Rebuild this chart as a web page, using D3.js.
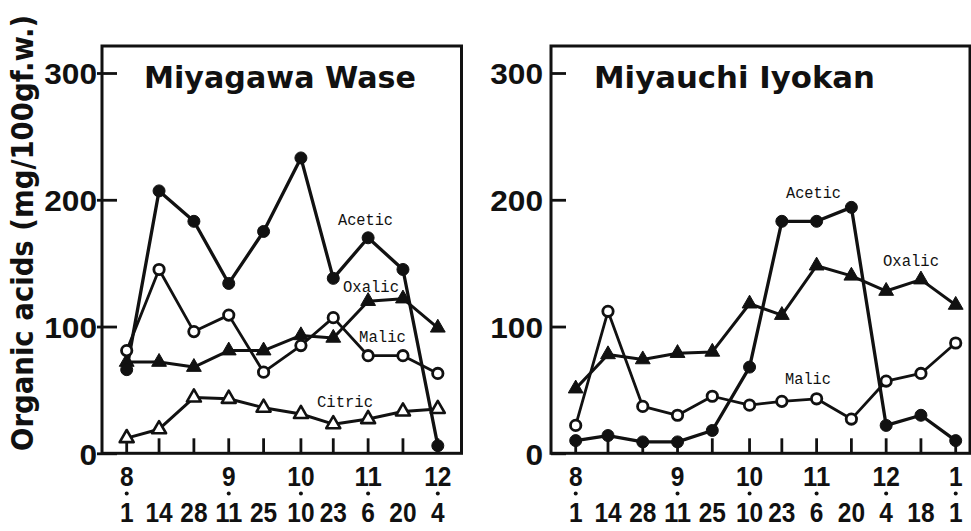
<!DOCTYPE html>
<html>
<head>
<meta charset="utf-8">
<script src="https://cdn.jsdelivr.net/npm/d3@7"></script>
<style>
  html, body { margin: 0; padding: 0; background: #fff; }
  svg { display: block; }
</style>
</head>
<body>
<svg id="chart" width="971" height="531"></svg>
<script>
// ---------------- DATA ----------------
const yTicks = [0, 100, 200, 300];
const yTitle = "Organic acids (mg/100gf.w.)";

const wDates = ["1980-08-01","1980-08-14","1980-08-28","1980-09-11","1980-09-25","1980-10-10","1980-10-23","1980-11-06","1980-11-20","1980-12-04"];
const wDayLabels = ["1","14","28","11","25","10","23","6","20","4"];
const wMonthDates = ["1980-08-01","1980-09-11","1980-10-10","1980-11-06","1980-12-04"];
const wMonthLabels = ["8","9","10","11","12"];
const wAcetic = [66, 207, 183, 134, 175, 233, 138, 170, 145, 6];
const wMalic  = [81, 145, 96, 109, 64, 85, 107, 77, 77, 63];
const wOxalic = [72, 72, 68, 81, 81, 93, 91, 120, 122, 99];
const wCitric = [12, 19, 44, 43, 36, 31, 23, 27, 33, 35];

const iDates = ["1980-08-01","1980-08-14","1980-08-28","1980-09-11","1980-09-25","1980-10-10","1980-10-23","1980-11-06","1980-11-20","1980-12-04","1980-12-18","1981-01-01"];
const iDayLabels = ["1","14","28","11","25","10","23","6","20","4","18","1"];
const iMonthDates = ["1980-08-01","1980-09-11","1980-10-10","1980-11-06","1980-12-04","1981-01-01"];
const iMonthLabels = ["8","9","10","11","12","1"];
const iAcetic = [10, 14, 9, 9, 18, 68, 183, 183, 194, 22, 30, 10];
const iOxalic = [51, 78, 74, 79, 80, 118, 109, 148, 140, 128, 137, 117];
const iMalic  = [22, 112, 37, 30, 45, 38, 41, 43, 27, 57, 63, 87];

// ---------------- DRAWING ----------------
const parse = d3.timeParse("%Y-%m-%d");
const svg = d3.select("#chart");
const INK = "#111";
const NUMFONT = "'Liberation Sans', Arial, sans-serif";

const y = d3.scaleLinear().domain([0, 300]).range([453.3, 73]);

function drawPanel(cfg) {
  const g = svg.append("g");
  const dates = cfg.dates.map(parse);
  const x = d3.scaleTime().domain([dates[0], dates[dates.length - 1]]).range(cfg.xRange);

  // frame
  g.append("rect")
    .attr("x", cfg.frame[0]).attr("y", cfg.frame[1])
    .attr("width", cfg.frame[2] - cfg.frame[0]).attr("height", cfg.frame[3] - cfg.frame[1])
    .attr("fill", "none").attr("stroke", INK).attr("stroke-width", 3);

  // y axis (ticks inside)
  const ya = g.append("g")
    .attr("transform", `translate(${cfg.frame[0]},0)`)
    .call(d3.axisLeft(y).tickValues(yTicks).tickSize(-cfg.yTickIn).tickPadding(cfg.yPad).tickFormat(d3.format("d")));
  ya.attr("font-size", null).attr("font-family", null);
  ya.select(".domain").remove();
  ya.selectAll(".tick line").attr("stroke", INK).attr("stroke-width", 2.8)
    .attr("x1", -cfg.yTickOut);
  ya.selectAll(".tick text")
    .style("font-family", NUMFONT).style("font-size", "30px").style("font-weight", "bold")
    .attr("fill", INK).attr("dy", "0.36em")
    .attr("textLength", d => String(d).length * 17.6).attr("lengthAdjust", "spacingAndGlyphs");

  // x ticks (inside, upward)
  g.append("g").selectAll("line").data(dates).join("line")
    .attr("x1", d => x(d)).attr("x2", d => x(d))
    .attr("y1", cfg.frame[3]).attr("y2", cfg.frame[3] - 15)
    .attr("stroke", INK).attr("stroke-width", 2.8);

  // month labels
  const mDates = cfg.monthDates.map(parse);
  g.append("g").selectAll("text").data(cfg.monthLabels).join("text")
    .attr("x", (d, i) => x(mDates[i])).attr("y", 486)
    .attr("text-anchor", "middle")
    .style("font-family", NUMFONT).style("font-size", "28px").style("font-weight", "bold")
    .attr("fill", INK)
    .attr("textLength", d => d.length * 13.6).attr("lengthAdjust", "spacingAndGlyphs")
    .text(d => d);
  // dots marking month start
  g.append("g").selectAll("circle").data(mDates).join("circle")
    .attr("cx", d => x(d)).attr("cy", 493.5).attr("r", 2).attr("fill", INK);
  // day labels
  g.append("g").selectAll("text").data(cfg.dayLabels).join("text")
    .attr("x", (d, i) => x(dates[i])).attr("y", 521.5)
    .attr("text-anchor", "middle")
    .style("font-family", NUMFONT).style("font-size", "28px").style("font-weight", "bold")
    .attr("fill", INK)
    .attr("textLength", d => d.length * 13.6).attr("lengthAdjust", "spacingAndGlyphs")
    .text(d => d);

  // title
  g.append("text")
    .attr("x", cfg.title[1]).attr("y", 88)
    .style("font-family", "'DejaVu Sans', sans-serif").style("font-weight", "bold")
    .style("font-size", "31px").attr("fill", INK)
    .attr("textLength", cfg.title[2]).attr("lengthAdjust", "spacingAndGlyphs")
    .text(cfg.title[0]);

  const line = d3.line().x(d => x(d.date)).y(d => y(d.v));
  const tri = d3.symbol().type(d3.symbolTriangle);

  cfg.series.forEach(s => {
    const pts = s.values.map((v, i) => ({ date: dates[i], v }));
    g.append("path").datum(pts)
      .attr("d", line).attr("fill", "none").attr("stroke", INK)
      .attr("stroke-width", s.lw).attr("stroke-linejoin", "round");
    s.pts = pts;
  });
  cfg.series.forEach(s => {
    const mg = g.append("g");
    if (s.marker === "fcircle" || s.marker === "ocircle") {
      mg.selectAll("circle").data(s.pts).join("circle")
        .attr("cx", d => x(d.date)).attr("cy", d => y(d.v))
        .attr("r", s.marker === "fcircle" ? 6 : 5.2)
        .attr("fill", s.marker === "fcircle" ? INK : "#fff")
        .attr("stroke", INK).attr("stroke-width", s.marker === "fcircle" ? 1 : 2.8);
    } else {
      mg.selectAll("path").data(s.pts).join("path")
        .attr("d", tri.size(s.marker === "ftri" ? 95 : 85))
        .attr("transform", d => `translate(${x(d.date)},${y(d.v)})`)
        .attr("fill", s.marker === "ftri" ? INK : "#fff")
        .attr("stroke", INK).attr("stroke-width", s.marker === "ftri" ? 1 : 2.6)
        .attr("stroke-linejoin", "round");
    }
  });

  // series labels
  g.append("g").selectAll("text").data(cfg.labels).join("text")
    .attr("x", d => d[1]).attr("y", d => d[2])
    .style("font-family", "'Liberation Mono', 'Courier New', monospace")
    .style("font-size", "16px").attr("fill", INK)
    .attr("textLength", d => d[3]).attr("lengthAdjust", "spacingAndGlyphs")
    .text(d => d[0]);
}

drawPanel({
  dates: wDates, dayLabels: wDayLabels, monthDates: wMonthDates, monthLabels: wMonthLabels,
  xRange: [126.7, 437.8],
  frame: [102, 46, 461.5, 453.3],
  yTickIn: 15, yTickOut: 5, yPad: 5,
  title: ["Miyagawa  Wase", 144, 272],
  series: [
    { values: wOxalic, marker: "ftri", lw: 3 },
    { values: wCitric, marker: "otri", lw: 3 },
    { values: wMalic, marker: "ocircle", lw: 2.8 },
    { values: wAcetic, marker: "fcircle", lw: 3.3 }
  ],
  labels: [["Acetic", 338, 225, 55], ["Oxalic", 343, 291.5, 56], ["Malic", 359, 341.5, 47], ["Citric", 317, 406.5, 56]]
});

drawPanel({
  dates: iDates, dayLabels: iDayLabels, monthDates: iMonthDates, monthLabels: iMonthLabels,
  xRange: [575.7, 955.7],
  frame: [551, 46, 970, 453.3],
  yTickIn: 15, yTickOut: 0, yPad: 8,
  title: ["Miyauchi  Iyokan", 594, 281],
  series: [
    { values: iOxalic, marker: "ftri", lw: 3 },
    { values: iMalic, marker: "ocircle", lw: 2.8 },
    { values: iAcetic, marker: "fcircle", lw: 3.3 }
  ],
  labels: [["Acetic", 786, 198, 55], ["Oxalic", 883, 266, 56], ["Malic", 785, 384, 46]]
});

// y-axis title
svg.append("text")
  .attr("transform", "translate(33,451) rotate(-90)")
  .style("font-family", "'DejaVu Sans Condensed', 'DejaVu Sans', sans-serif").style("font-weight", "bold")
  .style("font-size", "30px").attr("fill", INK)
  .attr("textLength", 436).attr("lengthAdjust", "spacingAndGlyphs")
  .text(yTitle);
</script>
</body>
</html>
